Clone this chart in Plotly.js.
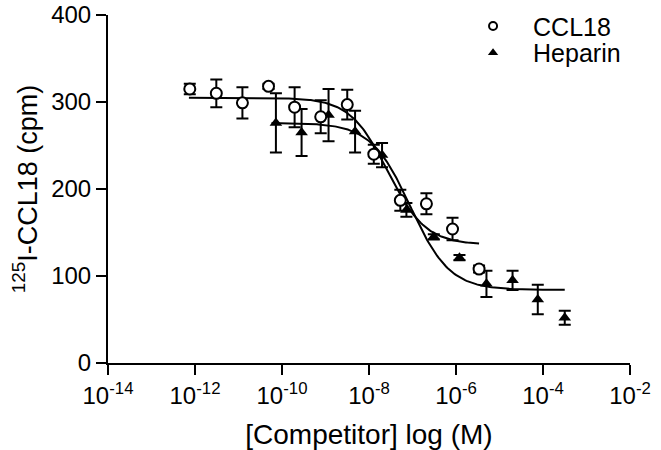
<!DOCTYPE html>
<html>
<head>
<meta charset="utf-8">
<script src="https://cdn.plot.ly/plotly-3.0.1.min.js"></script>
<style>
html,body{margin:0;padding:0;background:#fff;}
#chart{width:661px;height:450px;}
</style>
</head>
<body>
<div id="chart"></div>
<script>
// ---- data ----
var seriesNames = ["CCL18", "Heparin"];

// log10 of competitor concentration (M)
var ccl18LogConc = [-12.12, -11.51, -10.91, -10.31, -9.71, -9.11, -8.50, -7.89, -7.28, -6.68, -6.08, -5.47];
var ccl18Cpm     = [315, 310, 299, 318, 294, 283, 297, 240, 187, 183, 154, 108];
var ccl18Err     = [6, 16, 18, 3, 23, 19, 17, 11, 12, 12, 13, 4];

var heparinLogConc = [-10.14, -9.55, -8.93, -8.32, -7.70, -7.14, -6.51, -5.92, -5.30, -4.70, -4.12, -3.50];
var heparinCpm     = [276, 265, 285, 266, 239, 176, 145, 121, 91, 95, 73, 52];
var heparinErr     = [34, 27, 30, 24, 14, 8, 3, 3, 15, 11, 17, 8];

// one-site competition fit parameters (top, bottom, logIC50, Hill slope) and fitted range (log M)
var fitTop     = [305, 276];
var fitBottom  = [136, 84];
var fitLogIC50 = [-7.57, -7.05];
var fitHill    = [1.0, 0.96];
var fitFrom    = [-12.14, -10.24];
var fitTo      = [-5.47, -3.50];

var xTickVals  = [1e-14, 1e-12, 1e-10, 1e-8, 1e-6, 1e-4, 1e-2];
var xTickText  = ["10<sup>-14</sup>", "10<sup>-12</sup>", "10<sup>-10</sup>", "10<sup>-8</sup>", "10<sup>-6</sup>", "10<sup>-4</sup>", "10<sup>-2</sup>"];
var yTickVals  = [0, 100, 200, 300, 400];

// ---- build ----
function toConc(arr){ return arr.map(function(v){ return Math.pow(10, v); }); }

function fitCurve(i){
  var xs = [], ys = [];
  var lo = fitFrom[i], hi = fitTo[i], n = 200;
  for (var k = 0; k <= n; k++){
    var lx = lo + (hi - lo) * k / n;
    xs.push(Math.pow(10, lx));
    ys.push(fitBottom[i] + (fitTop[i] - fitBottom[i]) / (1 + Math.pow(10, fitHill[i] * (lx - fitLogIC50[i]))));
  }
  return {x: xs, y: ys};
}

var c0 = fitCurve(0);
var c1 = fitCurve(1);

var black = "#000000";
var FONT = "Liberation Sans, Arial, Helvetica, sans-serif";

var traces = [
  {x: c0.x, y: c0.y, mode: "lines", line: {color: black, width: 2}, showlegend: false, hoverinfo: "skip"},
  {x: c1.x, y: c1.y, mode: "lines", line: {color: black, width: 2}, showlegend: false, hoverinfo: "skip"},
  {
    x: toConc(heparinLogConc), y: heparinCpm, mode: "markers", name: seriesNames[1], showlegend: false,
    marker: {symbol: "triangle-up", size: 11, color: black, line: {color: black, width: 0}},
    error_y: {type: "data", array: heparinErr, visible: true, color: black, thickness: 2, width: 6}
  },
  {
    x: toConc(ccl18LogConc), y: ccl18Cpm, mode: "markers", name: seriesNames[0], showlegend: false,
    marker: {symbol: "circle", size: 11, color: "#ffffff", line: {color: black, width: 2}},
    error_y: {type: "data", array: ccl18Err, visible: true, color: black, thickness: 2, width: 6}
  },
  // legend entries
  {x: [null], y: [null], mode: "markers", name: seriesNames[0], legend: "legend",
   marker: {symbol: "circle", size: 8, color: "#ffffff", line: {color: black, width: 2}}},
  {x: [null], y: [null], mode: "markers", name: seriesNames[1], legend: "legend2",
   marker: {symbol: "triangle-up", size: 9, color: black, line: {width: 0}}}
];

var legendBase = {
  x: 0.661, xanchor: "left", yanchor: "top",
  bgcolor: "rgba(0,0,0,0)", borderwidth: 0,
  font: {family: FONT, size: 25, color: black}, itemwidth: 70
};

var legend1 = Object.assign({}, legendBase, {y: 1.034});
var legend2 = Object.assign({}, legendBase, {y: 0.957});

var layout = {
  width: 661, height: 450,
  margin: {l: 108, r: 31, t: 15, b: 87, autoexpand: false},
  paper_bgcolor: "#ffffff", plot_bgcolor: "#ffffff",
  font: {family: FONT, color: black, size: 24},
  showlegend: true,
  legend: legend1,
  legend2: legend2,
  xaxis: {
    type: "log", range: [-14, -2], autorange: false,
    tickmode: "array", tickvals: xTickVals, ticktext: xTickText,
    showgrid: false, zeroline: false, showline: true, linecolor: black, linewidth: 2,
    ticks: "outside", ticklen: 10, tickwidth: 2, tickcolor: black,
    tickfont: {family: FONT, size: 24, color: black},
    title: {text: "[Competitor] log (M)", font: {family: FONT, size: 28, color: black}, standoff: 17},
    automargin: false
  },
  yaxis: {
    range: [0, 400], autorange: false,
    tickmode: "array", tickvals: yTickVals,
    showgrid: false, zeroline: false, showline: true, linecolor: black, linewidth: 2,
    ticks: "outside", ticklen: 10, tickwidth: 2, tickcolor: black,
    tickfont: {family: FONT, size: 24, color: black},
    title: {text: "<sup>125</sup>I-CCL18 (cpm)", font: {family: FONT, size: 27, color: black}, standoff: 6},
    automargin: false
  }
};

Plotly.newPlot("chart", traces, layout, {displayModeBar: false, staticPlot: true});
</script>
</body>
</html>
